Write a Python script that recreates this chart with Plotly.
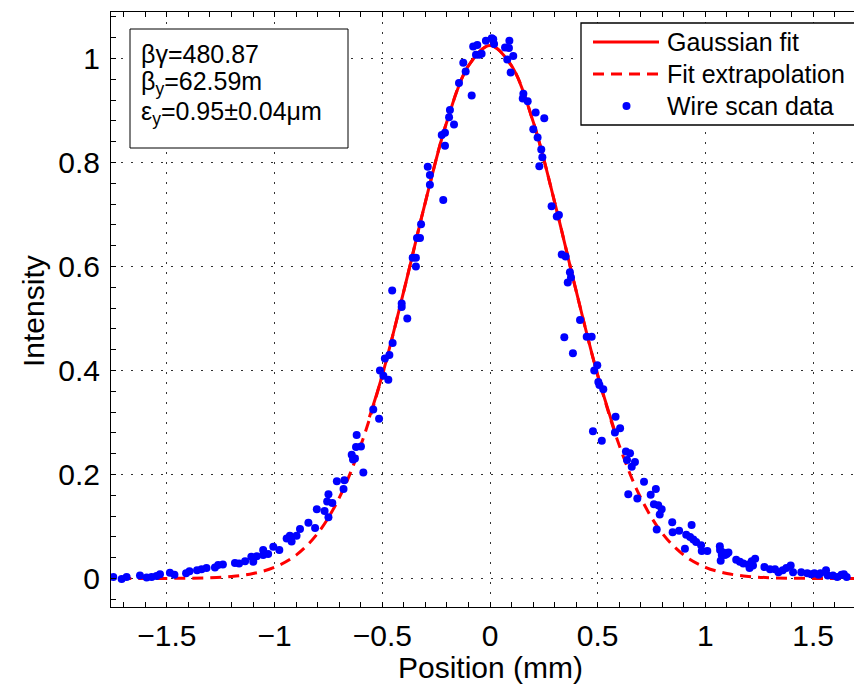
import plotly.graph_objects as go
import numpy as np

# ---- data ----
scan_x = [-1.749, -1.710, -1.687, -1.625, -1.594, -1.571, -1.548, -1.532, -1.486, -1.465,
          -1.411, -1.395, -1.360, -1.339, -1.316, -1.277, -1.262, -1.240, -1.184, -1.165,
          -1.137, -1.108, -1.099, -1.083, -1.053, -1.053, -1.030, -1.006, -0.978, -0.944,
          -0.929, -0.921, -0.898, -0.882, -0.843, -0.812, -0.804, -0.768, -0.756, -0.750,
          -0.750, -0.732, -0.711, -0.680, -0.676, -0.642, -0.636, -0.627, -0.622, -0.599,
          -0.619, -0.588, -0.542, -0.515, -0.511, -0.495, -0.488, -0.472, -0.467, -0.454,
          -0.452, -0.410, -0.410, -0.384, -0.359, -0.344, -0.344, -0.339, -0.325, -0.320,
          -0.289, -0.279, -0.279, -0.217, -0.224, -0.209, -0.209, -0.190, -0.186, -0.167,
          -0.144, -0.124, -0.113, -0.085, -0.078, -0.065, -0.059, -0.050, -0.039, -0.019,
          0.008, 0.015, 0.019, 0.070, 0.080, 0.088, 0.090, 0.096, 0.108, 0.152,
          0.155, 0.175, 0.201, 0.212, 0.221, 0.229, 0.238, 0.243, 0.252, 0.286,
          0.310, 0.320, 0.333, 0.345, 0.351, 0.361, 0.371, 0.376, 0.385, 0.418,
          0.449, 0.472, 0.478, 0.484, 0.498, 0.503, 0.508, 0.519, 0.526, 0.580,
          0.583, 0.604, 0.631, 0.636, 0.642, 0.650, 0.658, 0.673, 0.684, 0.715,
          0.746, 0.770, 0.761, 0.781, 0.797, 0.788, 0.774, 0.846, 0.848, 0.878,
          0.936, 0.911, 0.929, 0.944, 0.957, 0.905, 0.980, 0.983, 1.009, 1.067,
          1.068, 1.083, 1.099, 1.076, 1.091, 1.071, 1.107, 1.143, 1.160, 1.176,
          1.200, 1.215, 1.231, 1.205, 1.221, 1.274, 1.300, 1.323, 1.339, 1.359,
          1.376, 1.396, 1.407, 1.445, 1.473, 1.491, 1.506, 1.525, 1.534, 1.560,
          1.568, 1.592, 1.612, 1.632, 1.643, 1.656]
scan_y = [0.003, -0.001, 0.003, 0.006, 0.002, 0.003, 0.005, 0.008, 0.011, 0.007,
          0.010, 0.014, 0.016, 0.018, 0.020, 0.021, 0.026, 0.027, 0.030, 0.029,
          0.033, 0.042, 0.032, 0.043, 0.055, 0.045, 0.047, 0.061, 0.055, 0.077,
          0.082, 0.071, 0.082, 0.095, 0.107, 0.097, 0.133, 0.130, 0.148, 0.118,
          0.162, 0.145, 0.187, 0.172, 0.189, 0.238, 0.229, 0.231, 0.253, 0.254,
          0.276, 0.204, 0.325, 0.307, 0.400, 0.390, 0.423, 0.382, 0.430, 0.554,
          0.453, 0.529, 0.522, 0.500, 0.617, 0.617, 0.600, 0.655, 0.655, 0.681,
          0.792, 0.776, 0.757, 0.728, 0.853, 0.857, 0.832, 0.887, 0.901, 0.873,
          0.953, 0.992, 0.975, 0.929, 1.023, 1.007, 1.026, 1.007, 1.009, 1.034,
          1.039, 1.037, 1.028, 1.021, 0.998, 1.020, 1.034, 0.973, 1.005, 0.923,
          0.932, 0.918, 0.864, 0.896, 0.848, 0.793, 0.825, 0.810, 0.885, 0.716,
          0.696, 0.699, 0.623, 0.464, 0.619, 0.569, 0.589, 0.579, 0.433, 0.497,
          0.465, 0.465, 0.283, 0.400, 0.410, 0.378, 0.372, 0.265, 0.364, 0.281,
          0.311, 0.289, 0.244, 0.228, 0.162, 0.241, 0.215, 0.224, 0.154, 0.186,
          0.161, 0.172, 0.143, 0.141, 0.133, 0.123, 0.094, 0.108, 0.089, 0.092,
          0.103, 0.084, 0.080, 0.075, 0.070, 0.057, 0.064, 0.053, 0.053, 0.062,
          0.055, 0.050, 0.047, 0.045, 0.045, 0.034, 0.050, 0.036, 0.032, 0.029,
          0.027, 0.033, 0.038, 0.020, 0.025, 0.022, 0.018, 0.018, 0.012, 0.016,
          0.020, 0.025, 0.012, 0.012, 0.010, 0.008, 0.010, 0.007, 0.010, 0.016,
          0.006, 0.006, 0.003, 0.007, 0.008, 0.003]

# fitted curve, values
fit_x = [-1.8, -1.7, -1.6, -1.5, -1.4, -1.3, -1.2, -1.1, -1.0, -0.9, -0.8, -0.7, -0.6,
         -0.5, -0.4, -0.3, -0.2, -0.1, 0.0, 0.1, 0.2, 0.3, 0.4, 0.5, 0.6, 0.7, 0.8,
         0.9, 1.0, 1.1, 1.2, 1.3, 1.4, 1.5, 1.6, 1.7, 1.8]
fit_y = [0.0, 0.0, 0.0001, 0.0002, 0.0005, 0.0015, 0.0040, 0.0096, 0.0216, 0.045, 0.0868,
         0.155, 0.256, 0.391, 0.553, 0.724, 0.879, 0.986, 1.025, 0.986, 0.879, 0.724,
         0.553, 0.391, 0.256, 0.155, 0.0868, 0.045, 0.0216, 0.0096, 0.0040, 0.0015,
         0.0005, 0.0002, 0.0001, 0.0, 0.0]
fit_range = [-0.56, 0.585]  # solid part (fitted region)

x_ticks = [-1.5, -1, -0.5, 0, 0.5, 1, 1.5]
x_ticklabels = ["\u22121.5", "\u22121", "\u22120.5", "0", "0.5", "1", "1.5"]
y_ticks = [0, 0.2, 0.4, 0.6, 0.8, 1]
y_ticklabels = ["0", "0.2", "0.4", "0.6", "0.8", "1"]

x_title = "Position (mm)"
y_title = "Intensity"
legend_labels = ["Gaussian fit", "Fit extrapolation", "Wire scan data"]
info_lines = ["\u03b2\u03b3=480.87", "\u03b2<sub>y</sub>=62.59m",
              "\u03b5<sub>y</sub>=0.95\u00b10.04\u03bcm"]

# ---- figure geometry (pixels) ----
W, H = 854, 688
L, R, T, B = 111, 0, 12, 81
PW, PH = W - L - R, H - T - B


def px(x):
    return (x - L) / PW


def py(y):
    return (H - B - y) / PH


FONT = "Liberation Sans, Arial, Helvetica, sans-serif"

fig = go.Figure()
solid_x = [x for x in fit_x if fit_range[0] <= x <= fit_range[1]]
solid_y = [fit_y[fit_x.index(x)] for x in solid_x]
sx = [fit_range[0]] + solid_x + [fit_range[1]]
sy = [float(np.interp(fit_range[0], fit_x, fit_y))] + solid_y + [float(np.interp(fit_range[1], fit_x, fit_y))]

fig.add_trace(go.Scatter(x=fit_x, y=fit_y, mode="lines",
                         line=dict(color="#ff0000", width=3, dash="11px,7px", shape="spline"),
                         showlegend=False, hoverinfo="skip"))
fig.add_trace(go.Scatter(x=sx, y=sy, mode="lines", line=dict(color="#ff0000", width=3, shape="spline"),
                         showlegend=False, hoverinfo="skip"))
fig.add_trace(go.Scatter(x=scan_x, y=scan_y, mode="markers", marker=dict(color="#0000ff", size=8),
                         showlegend=False))

axis_common = dict(
    showline=True, linecolor="black", linewidth=1,
    ticks="inside", ticklen=5, tickwidth=1, tickcolor="black",
    showgrid=True, gridcolor="#333333", gridwidth=1, griddash="2px,8px",
    zeroline=False,
    tickfont=dict(family=FONT, size=30, color="black"),
)

fig.update_layout(
    width=W, height=H,
    margin=dict(l=L, r=R, t=T, b=B, autoexpand=False),
    paper_bgcolor="white", plot_bgcolor="white",
    font=dict(family=FONT, color="black"),
    xaxis=dict(range=[-1.7595, 1.6899], tickvals=x_ticks, ticktext=x_ticklabels,
               mirror="ticks", ticklabelstandoff=2,
               minor=dict(dtick=0.1, tick0=0, ticks="inside", ticklen=5, tickcolor="black", showgrid=False),
               **axis_common),
    yaxis=dict(range=[-0.0548, 1.0894], tickvals=y_ticks, ticktext=y_ticklabels,
               mirror=False, ticklabelstandoff=4,
               minor=dict(dtick=0.04, tick0=0, ticks="inside", ticklen=5, tickcolor="black", showgrid=False),
               **axis_common),
)

shapes = []
# info box
shapes.append(dict(type="rect", xref="paper", yref="paper", x0=px(130), x1=px(348), y0=py(148), y1=py(29),
                   line=dict(color="black", width=1), fillcolor="white", layer="above"))
# legend box
shapes.append(dict(type="rect", xref="paper", yref="paper", x0=px(581), x1=px(880), y0=py(125), y1=py(23),
                   line=dict(color="black", width=1.3), fillcolor="white", layer="above"))
shapes.append(dict(type="line", xref="paper", yref="paper", x0=px(593), x1=px(659), y0=py(42), y1=py(42),
                   line=dict(color="#ff0000", width=3), layer="above"))
shapes.append(dict(type="line", xref="paper", yref="paper", x0=px(593), x1=px(659), y0=py(74), y1=py(74),
                   line=dict(color="#ff0000", width=3, dash="11px,7px"), layer="above"))
shapes.append(dict(type="circle", xref="paper", yref="paper", x0=px(622.5), x1=px(630.5), y0=py(110), y1=py(102),
                   line=dict(color="#0000ff", width=0), fillcolor="#0000ff", layer="above"))
fig.update_layout(shapes=shapes)

ann = []
for lab, yy in zip(legend_labels, [42, 74, 106]):
    ann.append(dict(text=lab, xref="paper", yref="paper", x=px(665), y=py(yy), xanchor="left", yanchor="middle",
                    showarrow=False, font=dict(family=FONT, size=25, color="black")))
for lab, yy in zip(info_lines, [54, 83, 113]):
    ann.append(dict(text=lab, xref="paper", yref="paper", x=px(139), y=py(yy), xanchor="left", yanchor="middle",
                    showarrow=False, font=dict(family=FONT, size=25, color="black")))
# axis titles
ann.append(dict(text=x_title, xref="paper", yref="paper", x=px(490), y=py(667), xanchor="center", yanchor="middle",
                showarrow=False, font=dict(family=FONT, size=30, color="black")))
ann.append(dict(text=y_title, xref="paper", yref="paper", x=px(33), y=py(311), xanchor="center", yanchor="middle",
                textangle=-90, showarrow=False, font=dict(family=FONT, size=30, color="black")))
fig.update_layout(annotations=ann)

fig.write_html("out.html")
